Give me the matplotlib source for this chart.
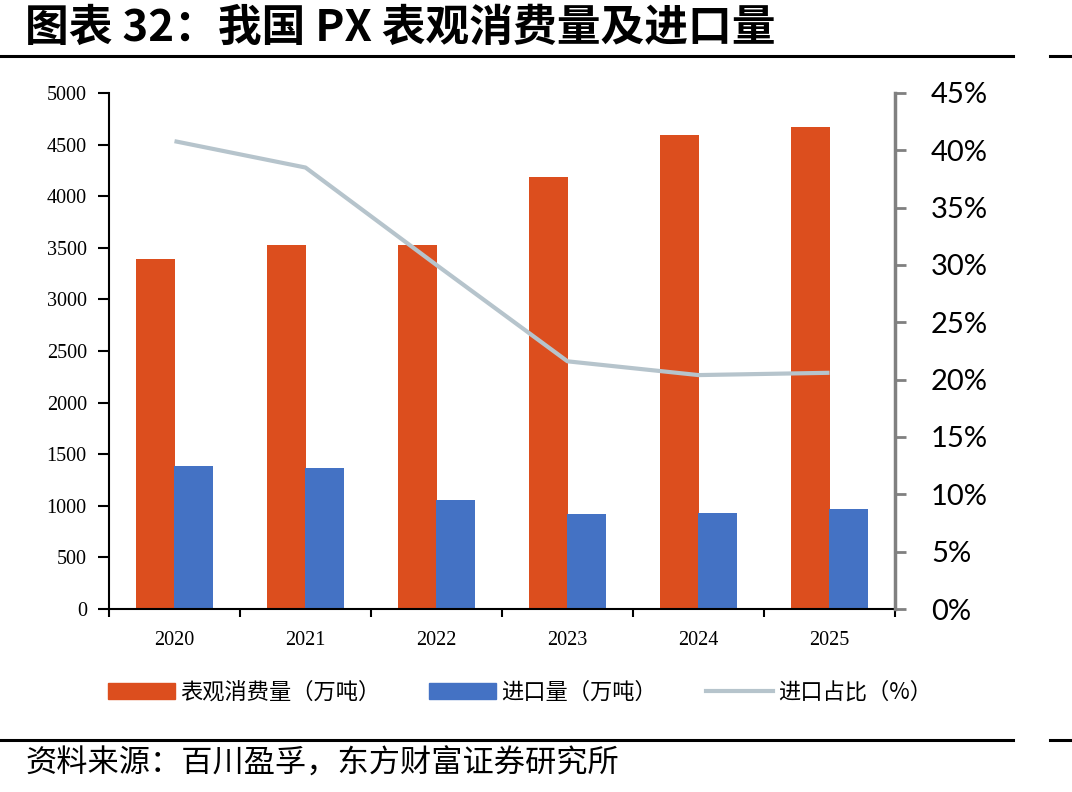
import matplotlib
matplotlib.use("Agg")
import matplotlib.pyplot as plt
import numpy as np
from matplotlib.patches import Patch
from matplotlib.lines import Line2D
from matplotlib.ticker import FuncFormatter, FixedLocator

plt.rcParams['font.family'] = ['Noto Sans CJK SC', 'DejaVu Sans']

# data
years = ['2020', '2021', '2022', '2023', '2024', '2025']
consumption = [3390, 3530, 3530, 4190, 4595, 4670]   # 表观消费量（万吨）
imports = [1385, 1370, 1060, 920, 930, 965]          # 进口量（万吨）
import_share = [0.408, 0.385, 0.300, 0.216, 0.204, 0.206]  # 进口占比

orange = '#DC4E1E'
blue = '#4472C4'
line_col = '#B6C4CC'

fig = plt.figure(figsize=(10.72, 7.92), dpi=100)
ax = fig.add_axes([109/1072, 1 - 609/792, (895-109)/1072, (609-93)/792])

x = np.arange(len(years))
w = 0.30
ax.bar(x - 0.145, consumption, w, color=orange, zorder=2)
ax.bar(x + 0.145, imports, w, color=blue, zorder=2)

ax.set_xlim(-0.5, 5.5)
ax.set_ylim(0, 5000)
ax.set_yticks(np.arange(0, 5001, 500))
ax.set_xticks(x)
ax.set_xticklabels(years, family='Liberation Serif', fontsize=14.5)
ax.xaxis.set_minor_locator(FixedLocator(np.arange(-0.5, 6, 1)))
ax.tick_params(axis='x', which='major', length=0, pad=16)
ax.tick_params(axis='x', which='minor', length=6, width=1.5, direction='out')
ax.tick_params(axis='y', length=8, width=1.5, direction='out', pad=8)
for lab in ax.get_yticklabels():
    lab.set_family('Liberation Serif')
    lab.set_fontsize(14.5)
ax.spines['top'].set_visible(False)
ax.spines['right'].set_visible(False)
ax.spines['left'].set_linewidth(1.5)
ax.spines['bottom'].set_linewidth(1.5)

ax2 = ax.twinx()
ax2.plot(x, import_share, color=line_col, lw=3, solid_capstyle='butt')
ax2.set_ylim(0, 0.45)
ax2.set_yticks(np.arange(0, 0.451, 0.05))
ax2.yaxis.set_major_formatter(FuncFormatter(lambda v, p: f'{v*100:.0f}%'))
ax2.tick_params(axis='y', length=8, width=2, color='#808080', direction='out', pad=18)
for lab in ax2.get_yticklabels():
    lab.set_family('Lato')
    lab.set_fontsize(21)
for s in ['top', 'left', 'bottom']:
    ax2.spines[s].set_visible(False)
ax2.spines['right'].set_color('#808080')
ax2.spines['right'].set_linewidth(2.5)

handles = [Patch(color=orange), Patch(color=blue), Line2D([], [], color=line_col, lw=3)]
labels = ['表观消费量（万吨）', '进口量（万吨）', '进口占比（%）']
fig.legend(handles, labels, loc='center left', bbox_to_anchor=(88/1072, 1 - 692/792),
           ncol=3, frameon=False, fontsize=16, handlelength=3.0, handleheight=0.7,
           handletextpad=0.25, columnspacing=2.2)

# title, rules and source
fig.text(25/1072, 1 - 28/792, '图表 32：我国 PX 表观消费量及进口量', fontsize=31.5,
         fontweight='bold', va='center', ha='left')
fig.add_artist(Line2D([0, 1013/1072], [1 - 56/792] * 2, color='black', lw=2.2))
fig.add_artist(Line2D([1050/1072, 1], [1 - 56/792] * 2, color='black', lw=2.2))
fig.add_artist(Line2D([0, 1013/1072], [1 - 740/792] * 2, color='black', lw=2.2))
fig.add_artist(Line2D([1050/1072, 1], [1 - 740/792] * 2, color='black', lw=2.2))
fig.text(25/1072, 1 - 764/792, '资料来源：百川盈孚，东方财富证券研究所', fontsize=22.5,
         va='center', ha='left')

fig.savefig('out.png', dpi=100)
